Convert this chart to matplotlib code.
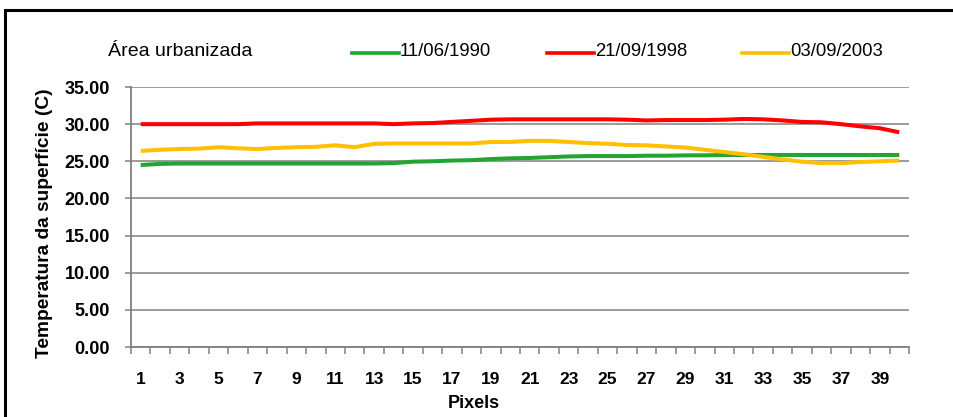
import matplotlib
matplotlib.use("Agg")
import matplotlib.pyplot as plt
from matplotlib.patches import Rectangle
from matplotlib.lines import Line2D

pixels = list(range(1, 41))
green_1990 = [24.5, 24.65, 24.7, 24.7, 24.7, 24.7, 24.7, 24.7, 24.7, 24.7,
              24.7, 24.7, 24.7, 24.75, 24.95, 25.0, 25.1, 25.15, 25.3, 25.4,
              25.45, 25.55, 25.65, 25.7, 25.7, 25.7, 25.75, 25.75, 25.8, 25.8,
              25.85, 25.85, 25.85, 25.85, 25.85, 25.85, 25.85, 25.85, 25.85, 25.85]
red_1998 = [30.0, 30.0, 30.0, 30.0, 30.0, 30.0, 30.1, 30.1, 30.1, 30.1,
            30.1, 30.1, 30.1, 30.0, 30.1, 30.15, 30.3, 30.45, 30.6, 30.65,
            30.65, 30.65, 30.65, 30.65, 30.65, 30.6, 30.5, 30.55, 30.55, 30.55,
            30.6, 30.7, 30.65, 30.5, 30.3, 30.25, 30.0, 29.7, 29.45, 28.9]
yellow_2003 = [26.4, 26.55, 26.65, 26.7, 26.9, 26.75, 26.65, 26.8, 26.9, 26.95,
               27.15, 26.9, 27.35, 27.4, 27.4, 27.4, 27.4, 27.4, 27.6, 27.6,
               27.75, 27.75, 27.6, 27.45, 27.35, 27.2, 27.15, 27.0, 26.85, 26.55,
               26.25, 25.95, 25.6, 25.25, 24.95, 24.75, 24.75, 24.9, 25.0, 25.1]
series_labels = ["11/06/1990", "21/09/1998", "03/09/2003"]
colors = ["#22A532", "#FF0000", "#FFC000"]
yticks = [0, 5, 10, 15, 20, 25, 30, 35]
xtick_labels = [str(i) for i in range(1, 41, 2)]

plt.rcParams['font.family'] = ['Liberation Sans', 'DejaVu Sans']

fig = plt.figure(figsize=(9.54, 4.17), dpi=100)
W, H = 954, 417
ax = fig.add_axes([131 / W, 1 - 347 / H, (909 - 131) / W, (347 - 87) / H])

for vals, c in zip([green_1990, red_1998, yellow_2003], colors):
    ax.plot(pixels, vals, color=c, lw=2.9, solid_joinstyle='round',
            solid_capstyle='butt', zorder=3)

ax.set_xlim(0.5, 40.5)
ax.set_ylim(0, 35)
ax.set_yticks(yticks)
ax.set_yticklabels([f"{v:.2f}" for v in yticks], fontsize=13, fontweight='bold')
ax.grid(axis='y', color='#808080', lw=1.1)
ax.set_axisbelow(True)
ax.set_xticks(list(range(1, 41, 2)))
ax.set_xticklabels(xtick_labels, fontsize=12.5, fontweight='bold')
ax.set_xticks([i + 0.5 for i in range(0, 41)], minor=True)
ax.tick_params(axis='x', which='major', length=0, pad=18)
ax.tick_params(axis='x', which='minor', length=5, color='#808080', width=1.1)
ax.tick_params(axis='y', length=4, color='#808080', width=1.1, pad=11)
for s in ['top', 'right']:
    ax.spines[s].set_visible(False)
for s in ['left', 'bottom']:
    ax.spines[s].set_color('#808080')
    ax.spines[s].set_linewidth(1.3)

ax.set_ylabel("Temperatura da superfície (C)", fontsize=13.8, fontweight='bold')
ax.yaxis.set_label_coords((44 - 131) / (909 - 131), 0.478)
ax.set_xlabel("Pixels", fontsize=13, fontweight='bold')
ax.xaxis.set_label_coords((474 - 131) / (909 - 131), -(403 - 347) / (347 - 87))
ax.xaxis.label.set_va('center')
ax.yaxis.label.set_va('center')

# Outer frame (extends beyond the image on the right and bottom)
fig.patches.append(Rectangle((5.5 / W, -0.2), 1.2, 1 - 10.5 / H + 0.2,
                             transform=fig.transFigure, fill=False,
                             edgecolor='black', lw=2.2))

# Header text and legend
fig.text(108 / W, 1 - 51 / H, "Área urbanizada", fontsize=14, va='center', ha='left')
leg_x = [352, 547, 742]
for lx, lab, c in zip(leg_x, series_labels, colors):
    fig.lines.append(Line2D([lx / W, (lx + 47) / W], [1 - 53 / H, 1 - 53 / H],
                            transform=fig.transFigure, color=c, lw=2.6))
    fig.text((lx + 48) / W, 1 - 52 / H, lab, fontsize=13.3, va='center', ha='left')

fig.savefig("out.png", dpi=100)
